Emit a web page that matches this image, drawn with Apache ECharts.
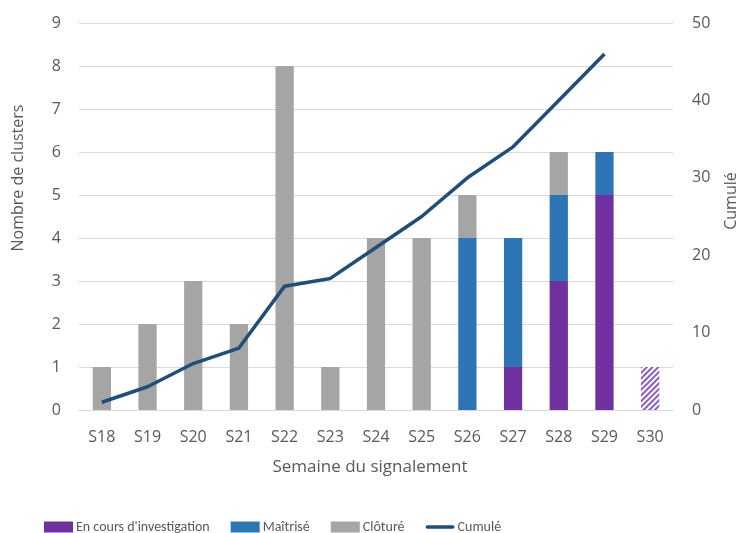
<!DOCTYPE html>
<html><head><meta charset="utf-8">
<script src="https://cdn.jsdelivr.net/npm/echarts@6/dist/echarts.min.js"></script>
<style>html,body{margin:0;padding:0;background:#fff}#c{width:739px;height:533px}</style>
</head><body><div id="c"></div>
<script>
const categories = ['S18','S19','S20','S21','S22','S23','S24','S25','S26','S27','S28','S29','S30'];
const enCours   = [0,0,0,0,0,0,0,0,0,1,3,5,1];
const maitrise  = [0,0,0,0,0,0,0,0,4,3,2,1,0];
const cloture   = [1,2,3,2,8,1,4,4,1,0,1,0,0];
const cumule    = [1,3,6,8,16,17,21,25,30,34,40,46,null];
const leftTicks = [0,9,1];
const rightTicks = [0,50,10];
const hatchedIndex = 12;

const FONT = '"Open Sans", sans-serif';
const LFONT = 'Carlito, "Open Sans", sans-serif';
const TXT = '#595959';
const chart = echarts.init(document.getElementById('c'), null, {renderer:'canvas'});

const enCoursData = enCours.map((v,i)=> i===hatchedIndex ? {
  value: v,
  itemStyle: {
    color: '#ffffff',
    decal: { symbol:'rect', symbolSize:1, dashArrayX:[1,0], dashArrayY:[2,2], rotation:-Math.PI/4, color:'#8c5cc4' }
  }
} : (v===0?null:v));

chart.setOption({
  animation:false,
  textStyle:{fontFamily:FONT},
  grid:{left:79,right:66,top:23,bottom:123,containLabel:false},
  legend:{
    top:520, left:44, padding:0,
    itemWidth:29, itemHeight:11, itemGap:21,
    textStyle:{fontFamily:LFONT,fontSize:14,color:TXT, padding:[0,0,0,-2], lineHeight:12},
    data:[
      {name:"En cours d'investigation", icon:'rect'},
      {name:'Maîtrisé', icon:'rect'},
      {name:'Clôturé', icon:'rect'},
      {name:'Cumulé', icon:'path://M2,0 L30,0 A2,2 0 0 1 30,4 L2,4 A2,2 0 0 1 2,0 Z', itemStyle:{color:'#1F4E79'}}
    ]
  },
  xAxis:{
    type:'category', data:categories,
    axisLine:{lineStyle:{color:'#D9D9D9'}},
    axisTick:{show:false},
    axisLabel:{color:TXT,fontSize:16,fontFamily:FONT,margin:19}
  },
  yAxis:[
    {type:'value',min:leftTicks[0],max:leftTicks[1],interval:leftTicks[2],
     axisLabel:{color:TXT,fontSize:16,fontFamily:FONT,margin:18},
     splitLine:{lineStyle:{color:'#D9D9D9'}},axisLine:{show:false},axisTick:{show:false}},
    {type:'value',min:rightTicks[0],max:rightTicks[1],interval:rightTicks[2],position:'right',
     axisLabel:{color:TXT,fontSize:16,fontFamily:FONT,margin:19},
     splitLine:{show:false},axisLine:{show:false},axisTick:{show:false}}
  ],
  graphic:[
    {type:'text',rotation:Math.PI/2,x:18,y:178,
     style:{text:'Nombre de clusters',font:'16px '+FONT,fill:TXT,textAlign:'center',textVerticalAlign:'middle'}},
    {type:'text',rotation:Math.PI/2,x:731,y:201,
     style:{text:'Cumulé',font:'16px '+FONT,fill:TXT,textAlign:'center',textVerticalAlign:'middle'}},
    {type:'text',x:370,y:467,
     style:{text:'Semaine du signalement',font:'17px '+FONT,fill:TXT,textAlign:'center',textVerticalAlign:'middle'}}
  ],
  series:[
    {name:"En cours d'investigation",type:'bar',stack:'s',barWidth:'40%',data:enCoursData,itemStyle:{color:'#7030A0'}},
    {name:'Maîtrisé',type:'bar',stack:'s',data:maitrise.map(v=>v===0?null:v),itemStyle:{color:'#2E75B6'}},
    {name:'Clôturé',type:'bar',stack:'s',data:cloture.map(v=>v===0?null:v),itemStyle:{color:'#A5A5A5'}},
    {name:'Cumulé',type:'line',yAxisIndex:1,data:cumule,showSymbol:false,symbol:'none',
     lineStyle:{color:'#1F4E79',width:3.5},itemStyle:{color:'#1F4E79'}}
  ]
});
</script></body></html>
